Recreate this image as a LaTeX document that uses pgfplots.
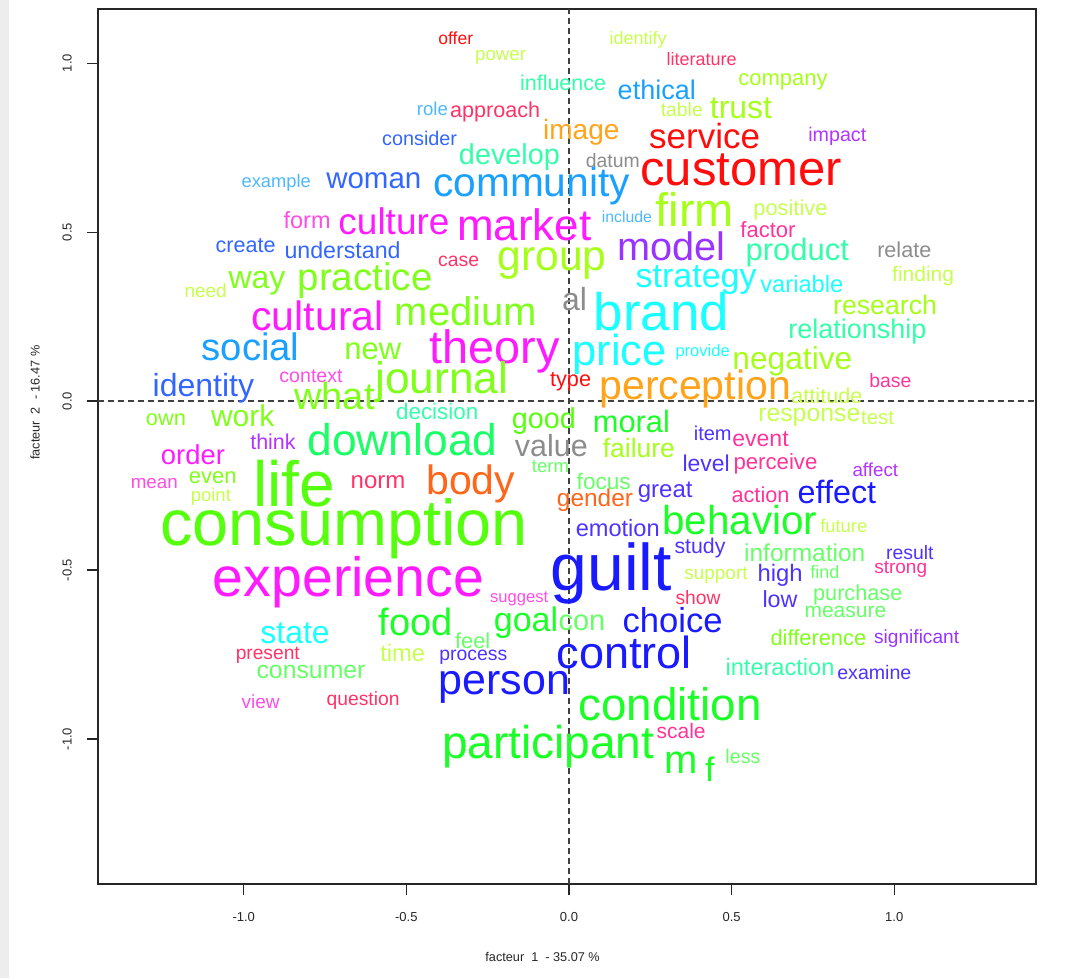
\documentclass[border=0pt]{standalone}
\usepackage{pgfplots}
\pgfplotsset{compat=1.18}
\usepackage{fontspec}
\setmainfont{Liberation Sans}
\definecolor{cRed}{HTML}{FF0D0D}
\definecolor{cRedPink}{HTML}{FF3366}
\definecolor{cPink}{HTML}{FF3399}
\definecolor{cMag}{HTML}{FF1AFF}
\definecolor{cMagL}{HTML}{FF4DE6}
\definecolor{cViolet}{HTML}{B333FF}
\definecolor{cPurple}{HTML}{9933FF}
\definecolor{cBV}{HTML}{4D33FF}
\definecolor{cBlue}{HTML}{1A1AFF}
\definecolor{cRoyal}{HTML}{3366FF}
\definecolor{cDodger}{HTML}{1AA0FF}
\definecolor{cSky}{HTML}{4DB8FF}
\definecolor{cCyan}{HTML}{1AFFFF}
\definecolor{cMint}{HTML}{33FFAA}
\definecolor{cSpring}{HTML}{1AFF66}
\definecolor{cGreen}{HTML}{1AFF26}
\definecolor{cLGreen}{HTML}{66FF66}
\definecolor{cChart}{HTML}{55FF0D}
\definecolor{cGY}{HTML}{80FF1A}
\definecolor{cYG}{HTML}{A6FF1A}
\definecolor{cYGL}{HTML}{C6FF4D}
\definecolor{cOrange}{HTML}{FFA31A}
\definecolor{cOrRed}{HTML}{FF661A}
\definecolor{cGray}{HTML}{8C8C8C}
\begin{document}
\begin{tikzpicture}
\path[use as bounding box] (-98pt,-94pt) rectangle (979pt,884pt);
\fill[black!7] (-98pt,-94pt) rectangle (-89pt,884pt);
\begin{axis}[
  at={(0pt,0pt)}, anchor=south west,
  scale only axis, width=938pt, height=875pt,
  xmin=-1.448, xmax=1.436, ymin=-1.429, ymax=1.160,
  clip=false,
  axis line style={line width=1.2pt, black!85},
  tick align=outside, xtick pos=lower, ytick pos=left,
  major tick length=11pt,
  tick style={line width=1.1pt, black!85},
  xtick={-1,-0.5,0,0.5,1}, xticklabels={-1.0,-0.5,0.0,0.5,1.0},
  ytick={-1,-0.5,0,0.5,1}, yticklabels={-1.0,-0.5,0.0,0.5,1.0},
  tick label style={font=\fontsize{13}{13}\selectfont, black!85, inner sep=0pt},
  xticklabel style={anchor=north}, xticklabel shift=17pt,
  yticklabel style={rotate=90, anchor=south}, yticklabel shift=15pt,
  xlabel={facteur\ \ 1\ \ - 35.07 \%},
  ylabel={facteur\ \ 2\ \ - 16.47 \%},
  xlabel style={at={(axis description cs:0.474,-0.0834)}, anchor=center, font=\fontsize{12.7}{13}\selectfont, black!85},
  ylabel style={at={(axis description cs:-0.067,0.55)}, anchor=center, rotate=0, font=\fontsize{12.7}{13}\selectfont, black!85},
]
\addplot[black!75, line width=1.2pt, dash pattern=on 6pt off 4pt] coordinates {(0,-1.429) (0,1.160)};
\addplot[black!75, line width=1.2pt, dash pattern=on 6pt off 4pt] coordinates {(-1.448,0) (1.436,0)};
\addplot[draw=none, mark=none,
  point meta=explicit symbolic,
  visualization depends on={value \thisrow{s}\as\wsize},
  visualization depends on={value \thisrow{c}\as\wcol},
  nodes near coords,
  nodes near coords style={anchor=base, yshift={-0.2595*\wsize*1pt}, inner sep=0pt, text=\wcol, font=\fontsize{\wsize}{\wsize}\selectfont},
] table[x=x, y=y, meta=w] {
x y s c w
-0.348 1.068 17.5 cRed offer
-0.210 1.022 18.7 cYGL power
0.213 1.068 18 cYGL identify
0.408 1.006 18 cRedPink literature
-0.018 0.935 21.5 cMint influence
0.270 0.914 27 cDodger ethical
0.658 0.950 22 cYG company
-0.420 0.858 18.6 cSky role
-0.227 0.855 21.6 cRedPink approach
0.347 0.858 19.4 cYGL table
0.529 0.861 32 cYG trust
0.825 0.784 19.7 cViolet impact
-0.459 0.772 19.8 cRoyal consider
0.038 0.796 28 cOrange image
0.417 0.775 35 cRed service
-0.183 0.722 28.8 cMint develop
0.135 0.707 19.4 cGray datum
0.529 0.675 49 cRed customer
-0.900 0.645 18.3 cSky example
-0.600 0.651 29.5 cRoyal woman
-0.115 0.636 40.7 cDodger community
0.387 0.553 47 cYG firm
0.178 0.541 15.8 cSky include
0.681 0.565 21.8 cYGL positive
-0.805 0.530 23.5 cMagL form
-0.538 0.521 37 cMag culture
-0.137 0.509 44 cMag market
0.612 0.500 22 cPink factor
-0.994 0.456 21.6 cRoyal create
-0.696 0.441 23.2 cRoyal understand
-0.339 0.414 19.4 cRedPink case
-0.052 0.420 42.6 cYG group
0.316 0.447 39.7 cPurple model
0.702 0.441 31 cMint product
1.031 0.442 21.6 cGray relate
-1.117 0.320 19 cYGL need
-0.959 0.358 32 cGY way
-0.627 0.358 38.5 cGY practice
0.391 0.361 34 cCyan strategy
0.716 0.340 23.7 cCyan variable
1.089 0.370 21 cYGL finding
0.017 0.293 32 cGray al
0.284 0.249 52.8 cCyan brand
0.972 0.278 26.7 cYG research
-0.773 0.240 41 cMag cultural
-0.317 0.254 40 cGY medium
0.887 0.207 27 cMint relationship
-0.979 0.148 38.3 cDodger social
-0.603 0.148 31 cGY new
-0.229 0.148 46.8 cMag theory
0.156 0.139 43.4 cCyan price
0.411 0.145 16.5 cCyan provide
0.687 0.118 31.7 cYG negative
0.988 0.056 19.4 cPink base
-0.793 0.071 19.6 cMagL context
-1.124 0.038 32 cRoyal identity
-0.391 0.056 44.3 cGY journal
-0.721 0.003 38 cGY what
0.005 0.059 21.7 cRed type
0.388 0.036 41 cOrange perception
0.793 0.009 21.6 cYGL attitude
-1.239 -0.056 21.8 cGY own
-1.003 -0.053 30 cGY work
-0.405 -0.036 22.4 cMint decision
-0.077 -0.059 28.8 cChart good
0.192 -0.068 30.8 cGreen moral
0.739 -0.041 24.8 cYGL response
0.949 -0.053 20.5 cYGL test
-0.910 -0.127 21.5 cViolet think
-0.512 -0.127 44.4 cSpring download
-0.054 -0.142 30.5 cGray value
0.215 -0.148 26.5 cYG failure
0.442 -0.101 20 cBV item
0.589 -0.118 23 cPink event
-1.156 -0.166 27.4 cMag order
-1.095 -0.228 22 cGY even
-1.275 -0.243 18.8 cMagL mean
-1.101 -0.284 18.5 cYGL point
-0.844 -0.263 64 cChart life
-0.587 -0.240 24 cRedPink norm
-0.302 -0.246 41 cOrRed body
-0.057 -0.198 18.5 cLGreen term
0.107 -0.243 22.6 cLGreen focus
0.080 -0.293 24.4 cOrRed gender
0.296 -0.266 24 cBV great
0.422 -0.192 22.9 cBV level
0.635 -0.185 22.2 cPink perceive
0.942 -0.210 18.8 cViolet affect
0.589 -0.284 21.7 cPink action
0.824 -0.278 32.3 cBlue effect
-0.692 -0.379 64.8 cChart consumption
0.150 -0.382 23.6 cBV emotion
0.525 -0.364 40.4 cGreen behavior
0.845 -0.376 18.4 cYGL future
-0.678 -0.536 55.4 cMag experience
0.130 -0.509 66 cBlue guilt
0.403 -0.435 21.3 cBV study
0.725 -0.456 24.5 cLGreen information
1.048 -0.453 19.4 cBV result
0.452 -0.512 19 cYGL support
0.649 -0.515 23.8 cBV high
0.787 -0.512 18 cLGreen find
1.020 -0.497 19 cPink strong
-0.153 -0.583 16.6 cMagL suggest
0.397 -0.586 19.3 cRedPink show
0.888 -0.574 21.7 cLGreen purchase
0.649 -0.592 23.3 cBV low
0.850 -0.624 21 cLGreen measure
-0.472 -0.666 38 cGreen food
-0.842 -0.692 32 cCyan state
-0.132 -0.657 34 cGreen goal
0.040 -0.657 29 cLGreen con
0.319 -0.657 34.6 cBlue choice
-0.296 -0.716 21.7 cLGreen feel
-0.511 -0.751 23.8 cYGL time
-0.294 -0.754 19.4 cBV process
-0.926 -0.751 19.2 cRedPink present
0.767 -0.707 21.9 cGY difference
1.069 -0.704 19.1 cPurple significant
0.170 -0.757 45 cBlue control
-0.793 -0.802 24.8 cLGreen consumer
0.649 -0.793 23.6 cMint interaction
0.939 -0.808 19.6 cBV examine
-0.199 -0.834 43 cBlue person
-0.633 -0.885 19.3 cRedPink question
-0.948 -0.896 19 cMagL view
0.311 -0.911 45.7 cGreen condition
-0.064 -1.021 46 cGreen participant
0.345 -0.982 21 cPink scale
0.345 -1.071 40 cGreen m
0.433 -1.101 34 cGreen f
0.535 -1.056 19.7 cLGreen less
};
\end{axis}
\end{tikzpicture}
\end{document}
